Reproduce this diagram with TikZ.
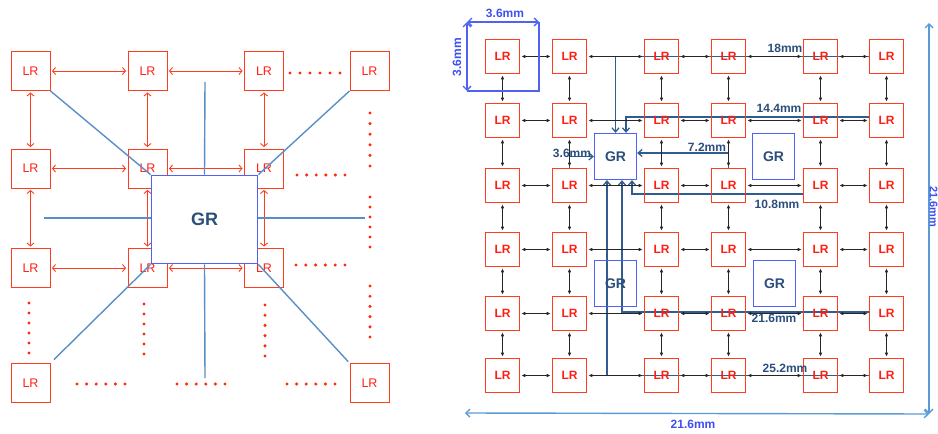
\documentclass[tikz,border=0pt]{standalone}
\usepackage{fontspec}
\setmainfont{Liberation Sans}
\usepackage{tikz}
\usetikzlibrary{arrows.meta,backgrounds}
\definecolor{lrred}{HTML}{FF3C1E}
\definecolor{lrtext}{HTML}{FF1E14}
\definecolor{dotred}{HTML}{FF2A0A}
\definecolor{grblue}{HTML}{4F62F2}
\definecolor{grtext}{HTML}{2B4E7C}
\definecolor{spokeblue}{HTML}{5B8EC6}
\definecolor{wireblue}{HTML}{2F5E8E}
\definecolor{dimbright}{HTML}{3D4FF0}
\definecolor{dimline}{HTML}{5B9BD5}
\newcommand{\dotrun}[4]{\foreach \k in {0,...,5} \fill[dotred] ({#1+\k*#3},{#2+\k*#4}) circle (1.7pt);}

\begin{document}
\begin{tikzpicture}[x=1pt, y=-1pt,
  lrl/.style={draw=lrred, line width=0.9pt, minimum size=39pt, inner sep=0pt, text=lrtext, font=\fontsize{12.5}{14}\selectfont},
  lr/.style={draw=lrred, line width=1.7pt, minimum size=34pt, inner sep=0pt, text=lrtext, font=\fontsize{12}{14}\selectfont\bfseries},
  grbig/.style={draw=grblue, line width=1.8pt, fill=white, minimum width=106pt, minimum height=88pt, text=grtext, font=\fontsize{18}{20}\selectfont\bfseries},
  gr/.style={draw=grblue, line width=1.3pt, minimum width=42pt, minimum height=46pt, inner sep=0pt, text=grtext, font=\fontsize{14}{16}\selectfont\bfseries},
  rlink/.style={{Straight Barb[length=3pt,width=7pt]}-{Straight Barb[length=3pt,width=7pt]}, draw=lrred, line width=0.9pt, shorten >=1.5pt, shorten <=1.5pt},
  link/.style={{Latex[length=4pt,width=3.6pt]}-{Latex[length=4pt,width=3.6pt]}, draw=black!85, line width=0.8pt, shorten >=1pt, shorten <=1pt},
  spoke/.style={draw=spokeblue, line width=1.4pt},
  wire/.style={-{Straight Barb[length=4pt,width=7pt]}, draw=wireblue, line width=1.3pt},
  dimsq/.style={draw=grblue, line width=1.4pt},
  dimout/.style={draw=dimline, line width=1.4pt},
  dimtip/.style={{Straight Barb[length=4pt,width=8pt]}-{Straight Barb[length=4pt,width=8pt]}},
  dimlbl/.style={inner sep=0pt, text=grtext, font=\fontsize{12}{14}\selectfont\bfseries}
]
\useasboundingbox (0,0) rectangle (938,434);

% left: LR grid around one big GR
\foreach \x [count=\i] in {30.5,147.5,264}
  \foreach \y [count=\j] in {71,168.5,268}
    \node[lrl] (l-\i-\j) at (\x,\y) {LR};
\node[lrl] (l-4-1) at (369.5,71) {LR};
\node[lrl] (l-1-4) at (30.5,383) {LR};
\node[lrl] (l-4-4) at (369.5,383) {LR};
\foreach \i [evaluate=\i as \k using int(\i+1)] in {1,2}
  \foreach \j in {1,2,3} {
    \draw[rlink] (l-\i-\j) -- (l-\k-\j);
    \draw[rlink] (l-\j-\i) -- (l-\j-\k);
  }
\node[grbig] (gl) at (204.5,219.5) {GR};
\coordinate (lt) at (205,82);
\coordinate (lb) at (205,378);
\coordinate (lw) at (44,218);
\coordinate (le) at (365,218);
\draw[spoke] (l-1-1.south east) -- (gl.north west);
\draw[spoke] (lt) -- (gl.north);
\draw[spoke] (l-4-1.south west) -- (gl.north east);
\draw[spoke] (lw) -- (lw -| gl.west);
\draw[spoke] (le -| gl.east) -- (le);
\draw[spoke, shorten >=5pt] (gl.south west) -- (l-1-4.north east);
\draw[spoke] (gl.south) -- (lb);
\draw[spoke, shorten >=2pt] (gl.south east) -- (l-4-4.north west);
% dotted continuations
\dotrun{290}{73}{10}{0}
\dotrun{297}{175}{9.6}{0}
\dotrun{296}{265}{9.8}{0}
\dotrun{370}{113}{0}{10.6}
\dotrun{370}{197}{0}{10}
\dotrun{370}{286}{0}{10.2}
\dotrun{29}{303}{0}{10}
\dotrun{144}{304}{0}{10}
\dotrun{265}{305}{0}{10.2}
\dotrun{77}{384}{9.6}{0}
\dotrun{177}{384}{9.6}{0}
\dotrun{287}{384}{9.6}{0}

% right: 6x6 LR mesh with four GRs
\foreach \x [count=\i] in {502.5,569.5,661.5,728.5,820.5,886.5}
  \foreach \y [count=\j] in {56.5,120.5,185.5,249.5,313.5,375.5}
    \node[lr] (r-\i-\j) at (\x,\y) {LR};
\foreach \i [evaluate=\i as \k using int(\i+1)] in {1,...,5}
  \foreach \j in {1,...,6} {
    \draw[link] (r-\i-\j) -- (r-\k-\j);
    \draw[link] (r-\j-\i) -- (r-\j-\k);
  }
\node[gr] (gr1) at (615.5,156.5) {GR};
\node[gr] (gr2) at (615.5,283.5) {GR};
\node[gr] (gr3) at (773.5,156.5) {GR};
\node[gr] (gr4) at (774.5,283.5) {GR};

% long wires into gr1
\begin{scope}[on background layer]
\draw[wire] (r-6-1.west) -| (gr1.north);
\draw[wire] ([yshift=3.5pt]r-6-2.west) -| ([xshift=10.5pt]gr1.north);
\draw[wire] (r-2-3.north) |- (gr1.west);
\draw[wire] (r-4-3.north) |- ([yshift=3.5pt]gr1.east);
\draw[wire] ([yshift=-8.5pt]r-5-3.west) -| ([xshift=16.5pt]gr1.south);
\draw[wire] ([yshift=1.5pt]r-6-5.west) -| ([xshift=6.5pt]gr1.south);
\draw[wire] (r-6-6.west) -| ([xshift=-8.5pt]gr1.south);
\end{scope}
\node[dimlbl] (m18) at (785,48) {18mm};
\node[dimlbl] (m144) at (779,108) {14.4mm};
\node[dimlbl] (m72) at (707,147) {7.2mm};
\node[dimlbl] (m108) at (777,204) {10.8mm};
\node[dimlbl] (m216) at (774,318) {21.6mm};
\node[dimlbl] (m252) at (785,368) {25.2mm};
\node[dimlbl] (m36) at (572,153) {3.6mm};

% tile and chip dimensions
\coordinate (ta) at (467,22);
\coordinate (tb) at (539,22);
\coordinate (tc) at (539,91);
\coordinate (td) at (467,91);
\draw[dimsq, dimtip] (ta) -- (tb);
\draw[dimsq, dimtip] (ta) -- (td);
\draw[dimsq] (tb) -- (tc) -- (td);
\node[dimlbl, text=dimbright] (tw) at (505,13) {3.6mm};
\node[dimlbl, text=dimbright, rotate=90] (th) at (457,57) {3.6mm};
\coordinate (oa) at (465,413);
\coordinate (ob) at (929,414);
\coordinate (oc) at (929,23);
\draw[dimout, dimtip] (oa) -- (ob);
\draw[dimout, dimtip] (oc) -- (ob);
\node[dimlbl, text=dimbright] (ow) at (693,424) {21.6mm};
\node[dimlbl, text=dimbright, rotate=-90, font=\fontsize{11}{13}\selectfont\bfseries] (oh) at (933.6,207) {21.6mm};
\end{tikzpicture}
\end{document}
